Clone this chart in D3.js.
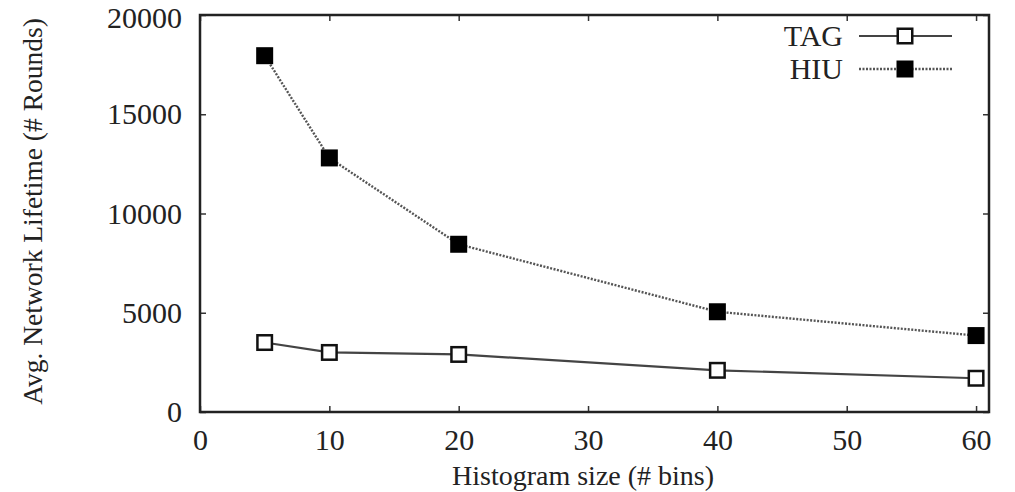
<!DOCTYPE html>
<html>
<head>
<meta charset="utf-8">
<script src="https://cdn.jsdelivr.net/npm/d3@7"></script>
<style>
  body { margin: 0; background: #fff; }
  text { font-family: "Liberation Serif", "DejaVu Serif", serif; fill: #222; }
</style>
</head>
<body>
<div id="chart"></div>
<script>
// data
var binSizes = [5, 10, 20, 40, 60];
var tagLifetime = [3500, 3000, 2900, 2100, 1700];
var hiuLifetime = [17950, 12800, 8450, 5050, 3850];
var xTicks = [0, 10, 20, 30, 40, 50, 60];
var yTicks = [0, 5000, 10000, 15000, 20000];
var seriesNames = ["TAG", "HIU"];

var margin = {top: 15, right: 26, bottom: 80, left: 200},
    width = 1015 - margin.left - margin.right,
    height = 492 - margin.top - margin.bottom;

var svg = d3.select("#chart").append("svg")
    .attr("width", 1015)
    .attr("height", 492);

var g = svg.append("g")
    .attr("transform", "translate(" + margin.left + "," + margin.top + ")");

var x = d3.scaleLinear().domain([0, 61]).range([0, width]);
var y = d3.scaleLinear().domain([0, 20000]).range([height, 0]);

var tickLen = 6;

// bottom axis + mirrored top ticks
g.append("g")
    .attr("transform", "translate(0," + height + ")")
    .call(d3.axisBottom(x).tickValues(xTicks).tickSize(-tickLen).tickPadding(17).tickFormat(d3.format("d")));
g.append("g")
    .call(d3.axisTop(x).tickValues(xTicks).tickSize(-tickLen).tickFormat(""));

var yAxis = g.append("g")
    .call(d3.axisLeft(y).tickValues(yTicks).tickSize(-tickLen).tickPadding(18).tickFormat(d3.format("d")));
g.append("g")
    .attr("transform", "translate(" + width + ",0)")
    .call(d3.axisRight(y).tickValues(yTicks).tickSize(-tickLen).tickFormat(""));

g.selectAll(".domain").remove();
g.selectAll(".tick line").attr("stroke", "#333").attr("stroke-width", 1.5);
g.selectAll(".tick text")
    .attr("font-size", 30)
    .style("font-family", "'Liberation Serif', serif")
    .attr("fill", "#222");

// keep the top label inside the page
yAxis.selectAll(".tick text")
    .filter(function(d) { return d == 20000; })
    .attr("dy", "0.42em");

// frame
g.append("rect")
    .attr("width", width)
    .attr("height", height)
    .attr("fill", "none")
    .attr("stroke", "#222")
    .attr("stroke-width", 2.5);

// axis titles
svg.append("text")
    .attr("x", margin.left + x(30) - 5)
    .attr("y", 485)
    .attr("text-anchor", "middle")
    .attr("font-size", 28)
    .text("Histogram size (# bins)");

svg.append("text")
    .attr("transform", "translate(42," + (margin.top + height / 2 - 2) + ") rotate(-90)")
    .attr("text-anchor", "middle")
    .attr("font-size", 27.5)
    .text("Avg. Network Lifetime (# Rounds)");

var line = d3.line()
    .x(function(d) { return x(d[0]); })
    .y(function(d) { return y(d[1]); });

var tagPts = binSizes.map(function(b, i) { return [b, tagLifetime[i]]; });
var hiuPts = binSizes.map(function(b, i) { return [b, hiuLifetime[i]]; });

var ms = 17;

g.append("path")
    .datum(tagPts)
    .attr("d", line)
    .attr("fill", "none")
    .attr("stroke", "#444")
    .attr("stroke-width", 2.2);

g.append("path")
    .datum(hiuPts)
    .attr("d", line)
    .attr("fill", "none")
    .attr("stroke", "#555")
    .attr("stroke-width", 2.4)
    .attr("stroke-dasharray", "2,1.5");

g.selectAll(".tagMark")
    .data(tagPts)
    .enter().append("rect")
    .attr("class", "tagMark")
    .attr("x", function(d) { return x(d[0]) - ms / 2 + 1.25; })
    .attr("y", function(d) { return y(d[1]) - ms / 2 + 1.25; })
    .attr("width", ms - 2.5)
    .attr("height", ms - 2.5)
    .attr("fill", "#fff")
    .attr("stroke", "#111")
    .attr("stroke-width", 2.5);

g.selectAll(".hiuMark")
    .data(hiuPts)
    .enter().append("rect")
    .attr("class", "hiuMark")
    .attr("x", function(d) { return x(d[0]) - ms / 2; })
    .attr("y", function(d) { return y(d[1]) - ms / 2; })
    .attr("width", ms)
    .attr("height", ms)
    .attr("fill", "#000");

// legend
var legend = svg.append("g");
var legY = [36, 69];
seriesNames.forEach(function(name, i) {
    legend.append("text")
        .attr("x", 843)
        .attr("y", legY[i] + 10)
        .attr("text-anchor", "end")
        .attr("font-size", 30)
        .text(name);
    legend.append("line")
        .attr("x1", 859).attr("x2", 952)
        .attr("y1", legY[i]).attr("y2", legY[i])
        .attr("stroke", i == 1 ? "#555" : "#444")
        .attr("stroke-width", i == 1 ? 2.4 : 2.2)
        .attr("stroke-dasharray", i == 1 ? "2,1.5" : null);
    if (i == 0) {
        legend.append("rect")
            .attr("x", 905 - ms / 2 + 1.25).attr("y", legY[i] - ms / 2 + 1.25)
            .attr("width", ms - 2.5).attr("height", ms - 2.5)
            .attr("fill", "#fff").attr("stroke", "#111").attr("stroke-width", 2.5);
    } else {
        legend.append("rect")
            .attr("x", 905 - ms / 2).attr("y", legY[i] - ms / 2)
            .attr("width", ms).attr("height", ms)
            .attr("fill", "#000");
    }
});
</script>
</body>
</html>
